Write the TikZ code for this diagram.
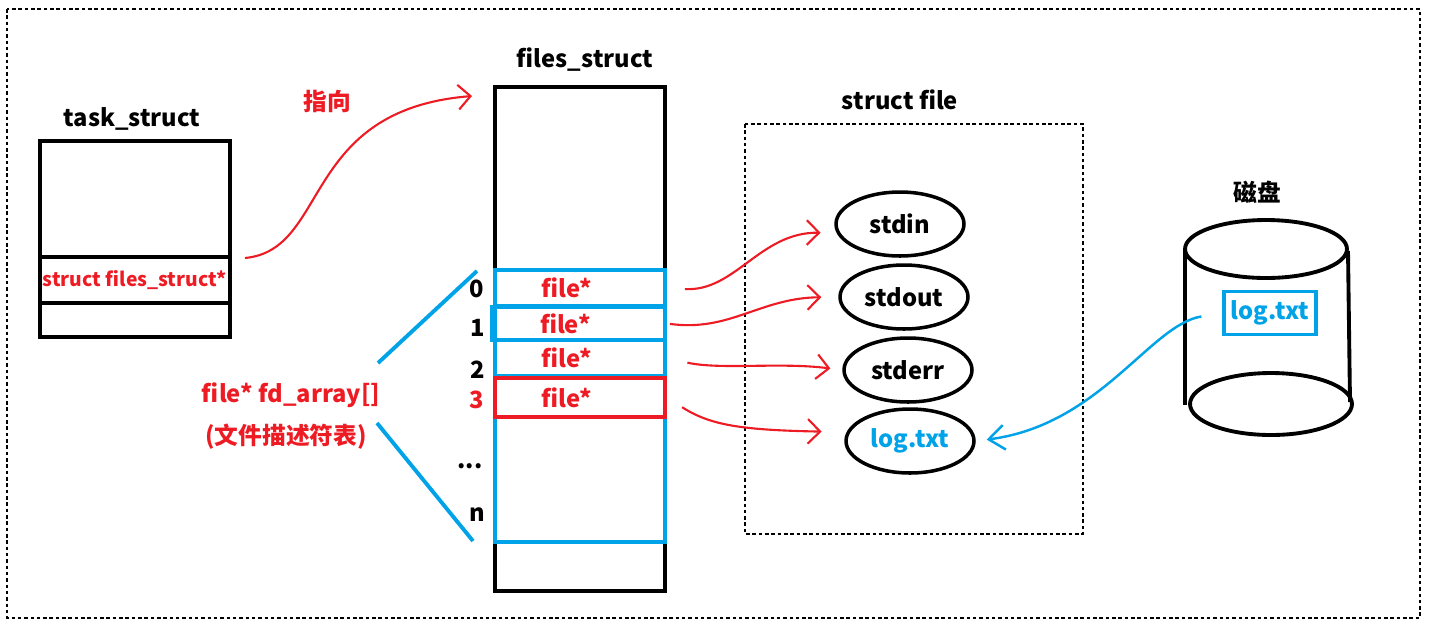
\documentclass[tikz,border=0pt]{standalone}
\usepackage{fontspec}
\setmainfont{Noto Sans CJK SC}
\definecolor{ptr_red}{RGB}{237, 28, 36}
\definecolor{fd_blue}{RGB}{0, 162, 232}
\usetikzlibrary{shapes.geometric, arrows.meta}

\begin{document}
\begin{tikzpicture}[x=0.02cm, y=-0.02cm, font=\fontsize{13.5}{16}\selectfont\bfseries,
    box/.style={line width=2.2pt},
    frame/.style={line width=0.6pt, dash pattern=on 2pt off 1.6pt},
    cell/.style={draw=fd_blue, line width=2.2pt, minimum width=3.4cm, inner sep=0pt,
      label={[ptr_red, xshift=-0.26cm]center:file*}},
    fobj/.style={draw, ellipse, line width=2pt, minimum width=2.56cm, minimum height=1.28cm, inner sep=0pt},
    redptr/.style={ptr_red, line width=1.2pt, -{Straight Barb[length=7pt, width=14pt]}},
    blueptr/.style={fd_blue, line width=1.4pt, -{Straight Barb[length=9pt, width=14pt]}}]
        \useasboundingbox (0,0) rectangle (1430,630);
        \draw[frame] (7,9) rectangle (1420,618);
        % task_struct
        \node (task) at (132,119) {task\_struct};
        \draw[box] (40,141) rectangle (230,337);
        \draw[box] (40,257) -- (230,257);
        \draw[box] (40,303) -- (230,303);
        \node[ptr_red, font=\fontsize{11}{13}\selectfont\bfseries] (tsptr) at (135,280) {struct files\_struct*};
        \coordinate (ptrsrc) at (245,258);
        \coordinate (fstop) at (472,96);
        \draw[redptr] (ptrsrc) .. controls (330,250) and (300,110) .. (fstop);
        \node[ptr_red] (point) at (327,101) {指向};
        % files_struct
        \node (files) at (585,60) {files\_struct};
        \draw[box] (495,87) rectangle (665,591);
        \draw[box, fd_blue] (495,270) rectangle (665,542);
        \node[cell, minimum height=0.72cm] (cell0) at (580,288) {};
        \node[cell, minimum width=3.46cm, minimum height=0.66cm] (cell1) at (578.5,323.5) {};
        \node[cell, minimum height=0.72cm] (cell2) at (580,358) {};
        \node[cell, draw=ptr_red, minimum height=0.78cm] (cell3) at (580,397.5) {};
        \node (idx0) at (477,289) {0};
        \node (idx1) at (478,328) {1};
        \node (idx2) at (478,370) {2};
        \node[ptr_red] (idx3) at (477,400) {3};
        \node (idxdots) at (470,466) {...};
        \node (idxn) at (477,515) {n};
        \node[ptr_red] (fdarr) at (291,395) {file* fd\_array[]};
        \node[ptr_red] (fdname) at (286,437) {(文件描述符表)};
        \coordinate (fdup) at (378,363);
        \coordinate (fdlow) at (377,423);
        \coordinate (fdfirst) at (477,271);
        \coordinate (fdlast) at (473,541);
        \draw[fd_blue, line width=2.2pt] (fdup) -- (fdfirst);
        \draw[fd_blue, line width=2.2pt] (fdlow) -- (fdlast);
        % struct file
        \node (sfile) at (900,100) {struct file};
        \draw[frame] (745,124) rectangle (1083,534);
        \node[fobj] (stdin) at (900,224) {stdin};
        \node[fobj] (stdout) at (904,297) {stdout};
        \node[fobj] (stderr) at (908,370) {stderr};
        \node[fobj, text=fd_blue] (logf) at (910,441) {log.txt};
        \draw[redptr, shorten <=0.36cm, shorten >=0.32cm] (cell0.east) .. controls (735,292) and (760,232) .. (stdin.188);
        \draw[redptr, shorten <=0.06cm, shorten >=0.34cm] (cell1.east) .. controls (730,332) and (760,298) .. (stdout.west);
        \draw[redptr, shorten <=0.42cm, shorten >=0.24cm] (cell2.east) .. controls (720,370) and (780,362) .. (stderr.west);
        \draw[redptr, shorten <=0.36cm, shorten >=0.5cm] (cell3.east) .. controls (710,425) and (740,430) .. (logf.172);
        % disk
        \node (disk) at (1257,192) {磁盘};
        \draw[box] (1185,249) -- (1185,405);
        \draw[box] (1348,251) -- (1350,402);
        \draw[box, fill=white] (1266,249) ellipse [x radius=1.62cm, y radius=0.58cm];
        \draw[box] (1271,404) ellipse [x radius=1.62cm, y radius=0.62cm];
        \node[draw=fd_blue, text=fd_blue, line width=2.2pt, minimum width=1.84cm, minimum height=0.86cm, inner sep=0pt] (disklog) at (1270,313) {log.txt};
        \draw[blueptr, shorten <=0.42cm, shorten >=0.22cm] (disklog.west) .. controls (1150,325) and (1100,425) .. (logf.east);
      \end{tikzpicture}
\end{document}
